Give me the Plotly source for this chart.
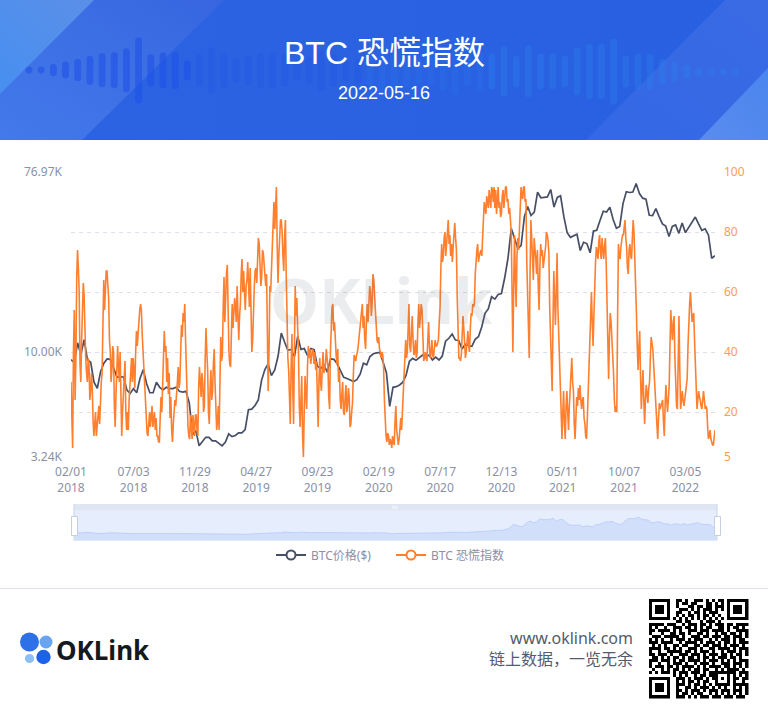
import base64
import numpy as np
import pandas as pd
import plotly.graph_objects as go

W, H = 768, 708
START, END = "2018-02-01", "2022-05-16"

# BTC price in USD, roughly every 8 days
btc_price = [
    9170, 8870, 11100, 9700, 11500, 9150, 8900, 7100, 6630, 8000, 8800, 9240, 9200, 8350, 7500, 7540, 7530, 6500, 6250, 6600,
    6300, 7400, 8200, 7000, 6300, 6300, 7100, 6700, 6500, 6700, 6600, 6600, 6700, 6400, 6350, 6400, 5600, 3900, 4100, 3450,
    3600, 3800, 3800, 3650, 3650, 3550, 3450, 3600, 3950, 3830, 3880, 4000, 4000, 4150, 5200, 5230, 5450, 5800, 7250, 8190,
    8740, 7650, 8150, 9500, 12400, 11200, 10200, 10300, 9500, 11950, 10300, 10400, 9600, 10400, 10260, 8500, 8300, 8600, 7950, 9250,
    9200, 8750, 8100, 7500, 7400, 7250, 7150, 7300, 7770, 8800, 8650, 9500, 9800, 9900, 9950, 8900, 7900, 5400, 6700, 6750,
    6880, 7100, 7700, 9000, 9300, 9100, 9400, 9650, 9450, 9650, 9130, 9430, 9130, 9550, 11300, 11680, 12250, 11450, 11400, 10340,
    10900, 10730, 10670, 11550, 11900, 13270, 15500, 16300, 18700, 18200, 19190, 19400, 23200, 29000, 40600, 36000, 32300, 33500, 46500, 52100,
    47000, 48800, 61200, 57500, 58000, 58000, 63100, 51700, 57700, 58800, 46400, 38700, 36700, 37300, 38000, 31600, 34700, 34200, 30800, 39400,
    39700, 44400, 49300, 48900, 51700, 44900, 40700, 41500, 53800, 61500, 61000, 61300, 67500, 60300, 57200, 56500, 47100, 46900, 50800, 46400,
    42700, 41700, 37000, 41500, 42200, 38400, 43200, 38700, 41100, 44000, 46200, 42700, 39700, 40400, 37700, 28900, 29800,
]

# Fear index, roughly every 2 days
fear_index = [
    30, 15, 8, 40, 54, 24, 38, 65, 74, 68, 60, 36, 30, 44, 55, 63, 59, 46, 38, 33, 30, 38, 36, 24, 27, 33, 28, 17, 12, 16, 20, 12, 15, 20, 22, 16, 25, 30, 33, 50,
    64, 54, 60, 67, 67, 62, 58, 44, 40, 30, 34, 42, 40, 22, 15, 26, 38, 42, 35, 30, 40, 22, 12, 20, 25, 33, 37, 20, 14, 20, 14, 24, 30, 36, 38, 30, 38, 34, 28, 40,
    47, 42, 47, 52, 54, 56, 54, 46, 40, 34, 28, 22, 18, 13, 12, 18, 20, 15, 20, 22, 15, 17, 20, 14, 18, 12, 12, 10, 10, 18, 25, 20, 28, 40, 47, 40, 42, 30, 38, 26,
    33, 18, 25, 14, 10, 16, 20, 24, 22,
    25, 30, 35, 28, 30, 42, 49, 45, 53, 50, 56, 44, 31, 20, 15, 12, 11, 19, 15, 11, 19, 13, 12, 19, 19, 14, 12, 28, 35, 30, 25, 33, 30, 20, 22, 38, 48, 40, 34, 20,
    16, 28, 34, 24, 27, 36, 41, 30, 23, 14, 17, 22, 14, 30, 45, 37, 39, 55, 65, 50, 60, 66, 69, 48, 40, 36, 35, 46, 56, 48, 55, 58, 55, 50, 62, 52, 44, 52, 56, 66,
    71, 60, 67, 60, 54, 62, 64, 70, 61, 55, 68, 52, 40, 44, 56, 62, 67, 68, 63, 72, 78, 76, 70, 62, 65, 74, 73, 70, 67, 62, 66, 45, 27, 40, 62, 60, 67, 78, 84, 90,
    81, 88, 95, 75, 63, 72, 79, 84, 84,
    80, 72, 67, 78, 84, 66, 48, 38, 34, 20, 16, 35, 46, 28, 16, 40, 62, 52, 58, 48, 40, 22, 15, 24, 32, 12, 5, 20, 32, 26, 21, 35, 42, 38, 41, 36, 38, 41, 40, 36,
    40, 34, 37, 25, 15, 30, 38, 30, 27, 34, 40, 33, 35, 36, 41, 38, 35, 25, 21, 40, 53, 55, 56, 47, 50, 42, 39, 36, 41, 30, 34, 24, 21, 26, 30, 20, 19, 25, 29, 20,
    22, 28, 25, 15, 16, 20, 23, 32, 39, 38, 37, 39, 40, 42, 45, 47, 51, 52, 56, 48, 52, 44, 41, 50, 56, 50, 58, 62, 60, 52, 56, 66, 64, 58, 56, 48, 44, 43, 45, 41,
    40, 38, 40, 39, 35, 24, 17, 12, 10, 13, 12, 9, 11,
    10, 8, 12, 10, 9, 17, 22, 14, 12, 9, 11, 14, 18, 14, 21, 24, 29, 38, 44, 38, 40, 48, 56, 42, 40, 46, 52, 44, 39, 40, 44, 38, 40, 50, 56, 48, 53, 56, 54, 45,
    37, 38, 40, 38, 37, 44, 50, 42, 38, 40, 44, 39, 38, 41, 44, 42, 42, 43, 44, 50, 55, 68, 76, 70, 72, 78, 80, 72, 75, 80, 84, 76, 79, 72, 76, 70, 75, 80, 83, 78,
    74, 58, 45, 38, 38, 37, 39, 45, 52, 48, 44, 38, 40, 44, 47, 42, 40, 48, 53, 52, 56, 55, 56, 66, 72, 74, 76, 70, 72, 73, 74, 72, 78, 85, 90, 88, 86, 92, 90, 88,
    94, 90, 88, 95, 94, 90, 95, 88, 94,
    86, 90, 95, 88, 90, 85, 86, 92, 94, 88, 91, 95, 95, 90, 91, 86, 88, 84, 80, 60, 40, 62, 79, 65, 55, 72, 78, 74, 80, 90, 95, 92, 91, 95, 95, 90, 91, 70, 55, 44,
    38, 66, 84, 78, 72, 64, 78, 72, 71, 66, 74, 62, 54, 68, 76, 72, 74, 68, 70, 72, 75, 80, 79, 77, 73, 55, 44, 32, 27, 50, 67, 58, 49, 60, 73, 55, 45, 33, 27, 18,
    11, 20, 27, 16, 11, 22, 27, 20, 14, 22, 27, 34, 38, 30, 27, 16, 11, 18, 25, 22, 28, 24, 29, 24, 21, 24, 25, 18, 16, 12, 11, 18, 27, 40, 49, 52, 60, 50, 42, 52,
    65, 70, 75, 72, 71, 77, 79, 73, 71,
    78, 74, 71, 75, 78, 70, 53, 40, 31, 45, 53, 50, 45, 36, 33, 24, 20, 22, 20, 52, 76, 72, 71, 75, 78, 79, 79, 82, 84, 78, 75, 68, 66, 74, 76, 72, 71, 78, 84, 80,
    73, 62, 53, 42, 34, 42, 47, 32, 21, 28, 34, 24, 16, 24, 29, 26, 23, 28, 30, 38, 45, 43, 41, 36, 30, 26, 22, 14, 11, 18, 23, 21, 22, 23, 24, 17, 12, 22, 29, 24,
    20, 24, 29, 42, 54, 48, 44, 50, 52, 38, 27, 22, 21, 36, 52, 34, 21, 24, 27, 24, 22, 24, 26, 28, 31, 42, 51, 56, 60, 54, 50, 52, 53, 44, 34, 26, 21, 24, 27, 25,
    24, 22, 21, 24, 27, 24, 21, 22, 21, 15, 11, 12, 14, 11, 10, 9, 9, 12, 14,
]

tick_dates = ["2018-02-01", "2018-07-03", "2018-11-29", "2019-04-27", "2019-09-23", "2020-02-19",
              "2020-07-17", "2020-12-13", "2021-05-11", "2021-10-07", "2022-03-05"]
tick_labels = ["02/01<br>2018", "07/03<br>2018", "11/29<br>2018", "04/27<br>2019", "09/23<br>2019", "02/19<br>2020",
               "07/17<br>2020", "12/13<br>2020", "05/11<br>2021", "10/07<br>2021", "03/05<br>2022"]
price_ticks = [3040, 10000, 76970]
price_tick_labels = ["3.24K", "10.00K", "76.97K"]
fear_ticks = [5, 20, 40, 60, 80, 100]

banner_bars = [7, 7, 12, 17, 22, 29, 34, 36, 44, 66, 32, 36, 37, 20, 32, 46, 36, 24, 30, 36, 36, 32, 20, 28, 40, 32, 20, 26, 30, 40,
               36, 30, 26, 28, 40, 48, 30, 40, 36, 50, 32, 52, 36, 36, 32, 48, 55, 55, 66, 32, 36, 36, 26, 20, 14, 10, 7, 7, 7]

qr_rows = [
    ".........##.#..###.#.#.##........",
    ".........#.##.##...##.#.#........",
    ".........#...##.##.##.###........",
    "..........###.#.#.###.#.#........",
    ".........##..#.##.#.###..........",
    ".........#.#.##.#.##.#.#.........",
    "........#.#.#.#.#.#.#.#.#........",
    ".........##.##...#.###.#.........",
    "#####.###..#.###.##.#.###.##.####",
    "#.#..#..###.##.#.#.##..##.#.##.#.",
    "##.####.#.#..###.###.####.#..####",
    "#...#..##.##.#..##.#..#.##.##.#.#",
    ".###.#####.#..###.##.###.##.###.#",
    "#.#.#..#.###.#.###..#.#.###.#.##.",
    "###.####..#.####.#.###.#.##.#.###",
    ".#.#.#..##.##..##.##.###.#.###.#.",
    "####.##.#.#..###.#..##.####.#.###",
    "#..#..#####.##.#.###.#..#.###.#.#",
    "##.###.#..###.###.#.###.##.#.##.#",
    ".##.#.#.##.#.##.#.##.#.###.##.#..",
    "###.###.#.##.####.#.###.#.#.#.###",
    "#..#..#.###.#..#.###.#..###.###.#",
    "#.###.##.#.####.#.#.####.##.#.#.#",
    ".#..#.#.##.#.#.##.##..#.#.####.#.",
    "#.#.###.#.###.###.#.#########.###",
    "........#.#.#..#.##.###...#.#.#.#",
    ".........###.#.###.#.##.#.#.##.##",
    ".........#.#.##.#.##..#...#.#..#.",
    ".........###.#.##.#.#.#####.#####",
    ".........#..##.#.###.#.#.#..#.#.#",
    ".........##.#.###.#.###.###.###.#",
    ".........#.##.#.##..#.#.#.#.#.#.#",
    ".........###.#.#.###.###.###.###.",
]


def fx(px):
    return px / W


def fy(py):
    return 1 - py / H


def data_uri(svg):
    return "data:image/svg+xml;base64," + base64.b64encode(svg.encode()).decode()


# Banner artwork
bars_svg = ""
for i, h in enumerate(banner_bars):
    x = 29 + i * 12.18
    cy = 70 + 2 * i / len(banner_bars)
    colour = "#1d4fe8" if i < 28 else "#2a7bec"
    opacity = 0.55 if i < 14 else (0.22 if i < 38 else 0.42)
    bars_svg += (f'<rect x="{x - 3.4:.1f}" y="{cy - h / 2:.1f}" width="6.8" height="{h}" rx="3.4" '
                 f'fill="{colour}" fill-opacity="{opacity}"/>')
banner_svg = f'''<svg xmlns="http://www.w3.org/2000/svg" width="768" height="140" viewBox="0 0 768 140">
<defs>
<linearGradient id="bg" x1="0" y1="0" x2="1" y2="0"><stop offset="0" stop-color="#2c63e3"/><stop offset="1" stop-color="#2760e0"/></linearGradient>
<linearGradient id="a" x1="1" y1="0" x2="0" y2="1"><stop offset="0" stop-color="#5b8fe8"/><stop offset="1" stop-color="#478ff0"/></linearGradient>
<linearGradient id="b" x1="1" y1="0" x2="0" y2="1"><stop offset="0" stop-color="#3766e0"/><stop offset="1" stop-color="#4379ea"/></linearGradient>
<linearGradient id="c" x1="1" y1="0" x2="0" y2="1"><stop offset="0" stop-color="#3a6ae4"/><stop offset="1" stop-color="#3468e6"/></linearGradient>
<linearGradient id="d" x1="1" y1="0" x2="0" y2="1"><stop offset="0" stop-color="#4a85ee"/><stop offset="1" stop-color="#5a8cee"/></linearGradient>
</defs>
<rect width="768" height="140" fill="url(#bg)"/>
<polygon points="0,0 224,0 82,140 0,140" fill="url(#b)"/>
<polygon points="0,0 94,0 0,94" fill="url(#a)"/>
<polygon points="725,0 768,0 768,140 586,140" fill="url(#c)"/>
<polygon points="768,68 768,140 699,140" fill="url(#d)"/>
{bars_svg}
</svg>'''

# QR code artwork
qr_n = 33
qr_cells = [list(r.ljust(qr_n, ".")[:qr_n]) for r in qr_rows]
for ox, oy in [(0, 0), (26, 0), (0, 26)]:
    for r in range(7):
        for c in range(7):
            dark = r in (0, 6) or c in (0, 6) or (2 <= r <= 4 and 2 <= c <= 4)
            qr_cells[oy + r][ox + c] = "#" if dark else "."
qr_svg_cells = "".join(
    f'<rect x="{c}" y="{r}" width="1" height="1"/>'
    for r, row in enumerate(qr_cells) for c, v in enumerate(row) if v == "#"
)
qr_svg = (f'<svg xmlns="http://www.w3.org/2000/svg" width="100" height="100" viewBox="0 0 {qr_n} {qr_n}" '
          f'shape-rendering="crispEdges" fill="#000">{qr_svg_cells}</svg>')

price_dates = pd.date_range(START, END, periods=len(btc_price))
fear_dates = pd.date_range(START, END, periods=len(fear_index))

PRICE_COLOUR = "#474f66"
FEAR_COLOUR = "#ff7f2e"
AXIS_TEXT = "#8b90a5"
GRID = "#dcdfea"
FONT = "Noto Sans, Noto Sans CJK SC, sans-serif"
TITLE_FONT = "Liberation Sans, Noto Sans CJK SC, sans-serif"

fig = go.Figure()
fig.add_trace(go.Scatter(x=price_dates, y=btc_price, mode="lines", name="BTC价格($)", legendgroup="price",
                         showlegend=False, line=dict(color=PRICE_COLOUR, width=1.7), xaxis="x", yaxis="y"))
fig.add_trace(go.Scatter(x=fear_dates, y=fear_index, mode="lines", name="BTC 恐慌指数", legendgroup="fear",
                         showlegend=False, line=dict(color=FEAR_COLOUR, width=1.6), xaxis="x", yaxis="y2"))
# legend keys
for name, colour, group in [("BTC价格($)", PRICE_COLOUR, "price"), ("BTC 恐慌指数", FEAR_COLOUR, "fear")]:
    fig.add_trace(go.Scatter(x=[None], y=[None], mode="lines+markers", name=name, legendgroup=group,
                             line=dict(color=colour, width=2),
                             marker=dict(size=9, color="white", line=dict(color=colour, width=2)),
                             xaxis="x", yaxis="y2"))
# overview strip under the chart
OV_BOTTOM, OV_TOP = -16875, 90600
fig.add_trace(go.Scatter(x=price_dates, y=[OV_BOTTOM] * len(btc_price), mode="lines", line=dict(width=0),
                         showlegend=False, hoverinfo="skip", xaxis="x2", yaxis="y3"))
fig.add_trace(go.Scatter(x=price_dates, y=btc_price, mode="lines", fill="tonexty", fillcolor="#d2dffa",
                         line=dict(color="#bcd0fa", width=1), showlegend=False, hoverinfo="skip",
                         xaxis="x2", yaxis="y3"))


def paper_rect(x0, y0, x1, y1, fill, layer="below", line=None):
    return dict(type="rect", xref="paper", yref="paper", x0=fx(x0), x1=fx(x1), y0=fy(y0), y1=fy(y1),
                fillcolor=fill, layer=layer, line=line or dict(width=0))


def paper_circle(cx, cy, r, fill):
    return dict(type="circle", xref="paper", yref="paper", x0=fx(cx - r), x1=fx(cx + r), y0=fy(cy + r), y1=fy(cy - r),
                fillcolor=fill, layer="above", line=dict(width=0))


def handle(x0, x1, y0, y1):
    return paper_rect(x0, y0, x1, y1, "white", "above", dict(color="#c5cfe3", width=1))


shapes = [
    paper_rect(74, 510.7, 717, 540, "#e6edfd"),
    paper_rect(74, 504, 717, 510.7, "#dfe6f3"),
    paper_rect(74, 539.5, 717, 540.5, "#c8d6ee"),
    paper_rect(73.5, 504, 74.5, 540.5, "#c8d6ee"),
    paper_rect(716.5, 504, 717.5, 540.5, "#c8d6ee"),
    paper_rect(392.5, 506, 393.3, 509, "white", "above"),
    paper_rect(394.5, 506, 395.3, 509, "white", "above"),
    paper_rect(396.5, 506, 397.3, 509, "white", "above"),
    handle(71.5, 77.5, 516.5, 535.5),
    handle(714.5, 720.5, 516.5, 535.5),
    paper_rect(0, 588, 768, 589, "#dde0ea"),
    paper_circle(29.5, 642, 9.5, "#2d70e8"),
    paper_circle(46, 642, 6.5, "#6aa3f0"),
    paper_circle(43.5, 657, 7.2, "#1c63ea"),
    paper_circle(29.5, 658.5, 4.6, "#8cc0f5"),
]

annotations = [
    dict(text="BTC 恐慌指数", x=fx(384), y=fy(53), font=dict(size=32, color="white", family=TITLE_FONT)),
    dict(text="2022-05-16", x=fx(384), y=fy(93), font=dict(size=18, color="white", family=TITLE_FONT)),
    dict(text="OKLink", x=fx(381), y=fy(300), font=dict(size=62, color="rgba(95,105,125,0.13)", family="Noto Sans", weight=700)),
    dict(text="OKLink", x=fx(103), y=fy(650), font=dict(size=26, color="#15191f", family="Noto Sans", weight=700)),
    dict(text="www.oklink.com<br>链上数据，一览无余", x=fx(635), y=fy(648), xanchor="right", align="right",
         font=dict(size=16, color="#555b6e", family=FONT)),
]
for a in annotations:
    a.update(xref="paper", yref="paper", showarrow=False)
    a.setdefault("xanchor", "center")
    a.setdefault("yanchor", "middle")

images = [
    dict(source=data_uri(banner_svg), xref="paper", yref="paper", x=0, y=1, sizex=1, sizey=140 / H,
         sizing="stretch", xanchor="left", yanchor="top", layer="below"),
    dict(source=data_uri(qr_svg), xref="paper", yref="paper", x=fx(648.5), y=fy(598.5), sizex=100 / W, sizey=100 / H,
         sizing="stretch", xanchor="left", yanchor="top", layer="below"),
]

fig.update_layout(
    width=W, height=H, autosize=False, margin=dict(l=0, r=0, t=0, b=0, pad=0, autoexpand=False),
    paper_bgcolor="white", plot_bgcolor="rgba(0,0,0,0)",
    font=dict(family=FONT, size=12, color=AXIS_TEXT),
    shapes=shapes, annotations=annotations, images=images,
    hovermode=False,
    legend=dict(orientation="h", x=fx(271), xanchor="left", y=fy(555), yanchor="middle",
                font=dict(size=12, color=AXIS_TEXT, family=FONT), bgcolor="rgba(0,0,0,0)", itemwidth=30,
                entrywidth=75, entrywidthmode="pixels"),
    xaxis=dict(domain=[fx(71), fx(715)], type="date", range=[START, END], tickmode="array",
               tickvals=tick_dates, ticktext=tick_labels, showgrid=False, zeroline=False, showline=False,
               ticks="", tickangle=0, tickfont=dict(size=12, color=AXIS_TEXT), ticklabelstandoff=6, anchor="y",
               automargin=False),
    yaxis=dict(domain=[fy(457), fy(172)], type="log", range=[np.log10(price_ticks[0]), np.log10(price_ticks[-1])],
               tickmode="array", tickvals=price_ticks, ticktext=price_tick_labels, showgrid=False, zeroline=False,
               showline=False, ticks="", ticklabelstandoff=8, tickfont=dict(size=12, color=AXIS_TEXT), anchor="x",
               automargin=False),
    yaxis2=dict(overlaying="y", side="right", range=[5, 100], tickmode="array", tickvals=fear_ticks,
                showgrid=True, gridcolor=GRID, griddash="4px,4px", gridwidth=1, zeroline=False, showline=False,
                ticks="", ticklabelstandoff=8, tickfont=dict(size=12, color="#ff9d50"), anchor="x", automargin=False),
    xaxis2=dict(domain=[fx(74), fx(717)], type="date", range=[START, END], visible=False, anchor="y3", automargin=False),
    yaxis3=dict(domain=[fy(540), fy(510.7)], range=[OV_BOTTOM, OV_TOP], visible=False, anchor="x2", automargin=False),
)

post = """
document.documentElement.style.margin='0';
document.body.style.margin='0';
document.body.style.overflow='hidden';
"""
fig.write_html("out.html", config=dict(displayModeBar=False, responsive=False), post_script=post)
